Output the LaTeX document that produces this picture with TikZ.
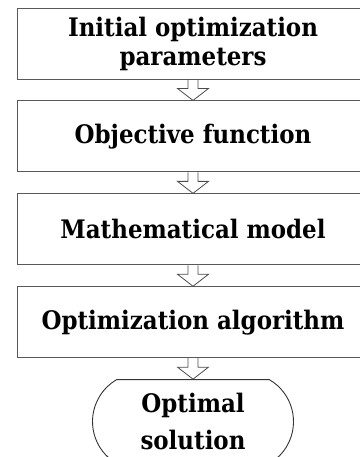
\documentclass[tikz,border=0pt]{standalone}
\usepackage{fontspec}
\setmainfont{DejaVu Serif Condensed}
\usetikzlibrary{positioning,calc,shapes.misc}

\def\boxwidth{352pt}
\def\boxheight{71pt}

\begin{document}
\begin{tikzpicture}[
    x=1pt,y=1pt,
    node distance=21pt,
    stepbox/.style={draw=black!65,line width=0.9pt,minimum width=\boxwidth,
      minimum height=\boxheight,align=center,inner sep=0pt,
      font=\fontsize{25.5}{29}\selectfont\bfseries},
    endbox/.style={draw=black!80,line width=0.9pt,rounded rectangle,
      rounded rectangle arc length=120,minimum width=201pt,minimum height=84pt,
      align=center,inner sep=0pt,font=\fontsize{25.5}{37}\selectfont\bfseries},
    flowarrow/.style={draw=black!70,line width=0.8pt}
    ]
    \useasboundingbox (0,0) rectangle (359,-457);

    \node[stepbox] (params) at (193,-43.5) {Initial optimization\\parameters};
    \node[stepbox,below=of params] (objfun) {Objective function};
    \node[stepbox,below=of objfun] (mathmodel) {Mathematical model};
    \node[stepbox,below=of mathmodel] (optalg) {Optimization algorithm};
    \node[endbox,below=of optalg] (optsol) {Optimal\\solution};

    % hollow block arrows between the steps
    \foreach \a/\b in {params/objfun,objfun/mathmodel,mathmodel/optalg,optalg/optsol} {
      \draw[flowarrow] ($(\a.south)+(-5,0)$) -- ($(\b.north)+(-5,12)$)
        -- ($(\b.north)+(-15.5,12)$) -- (\b.north) -- ($(\b.north)+(15.5,12)$)
        -- ($(\b.north)+(5,12)$) -- ($(\a.south)+(5,0)$);
    }
\end{tikzpicture}
\end{document}
